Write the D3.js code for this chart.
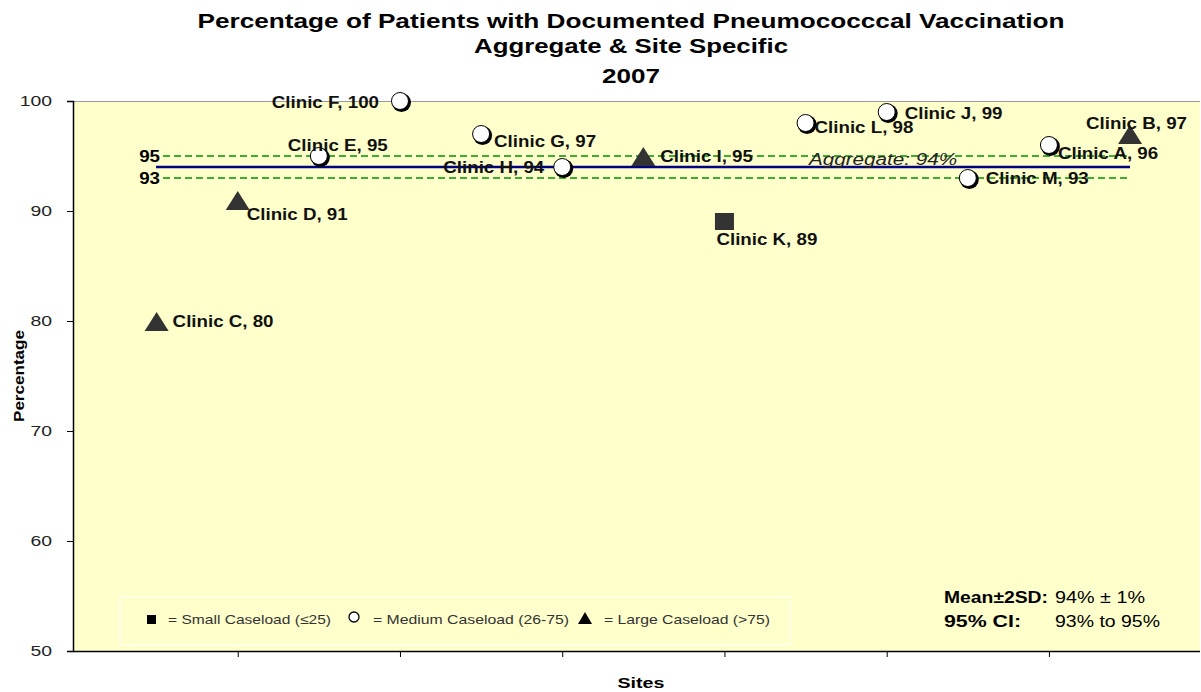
<!DOCTYPE html>
<html><head><meta charset="utf-8">
<script src="https://cdn.jsdelivr.net/npm/d3@7"></script>
<style>body{margin:0;background:#fff}svg{display:block;font-family:"Liberation Sans",Arial,sans-serif}</style>
</head><body>
<svg id="c" width="1201" height="692"></svg>
<script>
const clinics = ["Clinic C","Clinic D","Clinic E","Clinic F","Clinic G","Clinic H","Clinic I","Clinic K","Clinic L","Clinic J","Clinic M","Clinic A","Clinic B"];
const values  = [80,91,95,100,97,94,95,89,98,99,93,96,97];
const caseload = ["large","large","medium","medium","medium","medium","large","small","medium","medium","medium","medium","large"];
const yTicks = [50,60,70,80,90,100];
const xTicks = [2,4,6,8,10,12];
const aggregate = 94, ciLow = 93, ciHigh = 95, twoSD = 1;
const titleLines = ["Percentage of Patients with Documented Pneumococccal Vaccination","Aggregate & Site Specific","2007"];
const legendItems = [["small","= Small Caseload (\u226425)"],["medium","= Medium Caseload  (26-75)"],["large","= Large Caseload (>75)"]];

// label placement (style): [dx, dy, anchor]
const labelPlace = [[16,6,"start"],[9,20,"start"],[-31,-5,"start"],[-21,7,"end"],[13,13,"start"],[-18,6,"end"],
  [17,6,"start"],[-8,23,"start"],[9,10,"start"],[18,7,"start"],[18,6,"start"],[9,14,"start"],[-44,-5,"start"]];

const svg = d3.select("#c");
const L=73, R=1200, T=101, B=651;
const x = d3.scaleLinear().domain([0,13.85]).range([75.5,1199]);
const y = d3.scaleLinear().domain([50,100]).range([B,T]);

function stretch(sel,f){
  sel.each(function(){ const n=this.getComputedTextLength();
    d3.select(this).attr("textLength",n*f).attr("lengthAdjust","spacingAndGlyphs"); });
}

svg.append("rect").attr("x",L).attr("y",T).attr("width",R-L).attr("height",B-T).attr("fill","#ffffcc");
svg.append("line").attr("x1",L).attr("x2",R).attr("y1",T+0.5).attr("y2",T+0.5).attr("stroke","#999");

const titleBase=[28,53,83], titleLen=[867,314,58];
titleLines.forEach((t,i)=>{
  svg.append("text").attr("x",631).attr("y",titleBase[i]).attr("text-anchor","middle")
    .attr("font-size",19.5).attr("font-weight","bold").attr("fill","#000")
    .attr("textLength",titleLen[i]).attr("lengthAdjust","spacingAndGlyphs").text(t);
});

const ya = svg.append("g").attr("transform",`translate(${L},0)`)
  .call(d3.axisLeft(y).tickValues(yTicks).tickSize(6).tickPadding(15));
ya.select(".domain").attr("stroke","#000").attr("stroke-width",1.5);
ya.selectAll("text").attr("font-size",15.5).attr("fill","#222").attr("font-family","Liberation Sans, Arial");
stretch(ya.selectAll("text"),1.25);
const xa = svg.append("g").attr("transform",`translate(0,${B})`)
  .call(d3.axisBottom(x).tickValues(xTicks).tickSize(6).tickFormat(""));
xa.select(".domain").attr("d",`M${L},0.5H${R}`).attr("stroke","#000").attr("stroke-width",1.5);

svg.append("text").attr("transform","translate(24,376) rotate(-90)").attr("text-anchor","middle")
  .attr("font-size",15).attr("font-weight","bold").attr("textLength",92).attr("lengthAdjust","spacingAndGlyphs").text("Percentage");
svg.append("text").attr("x",641).attr("y",688).attr("text-anchor","middle")
  .attr("font-size",15).attr("font-weight","bold").attr("textLength",47).attr("lengthAdjust","spacingAndGlyphs").text("Sites");

// reference lines
const x1 = x(13);
[ciHigh,ciLow].forEach(v=>{
  svg.append("line").attr("x1",163).attr("x2",x1).attr("y1",y(v)).attr("y2",y(v))
    .attr("stroke","#009000").attr("stroke-width",1.4).attr("stroke-dasharray","7,4");
  svg.append("text").attr("x",160).attr("y",y(v)+6).attr("text-anchor","end").attr("class","w")
    .attr("font-size",16).attr("font-weight","bold").text(v);
});
svg.append("line").attr("x1",156).attr("x2",x1).attr("y1",y(aggregate)).attr("y2",y(aggregate))
  .attr("stroke","#000080").attr("stroke-width",2.5);
svg.append("text").attr("x",809).attr("y",y(aggregate)-2).attr("font-size",16).attr("font-style","italic")
  .attr("fill","#222").attr("textLength",148).attr("lengthAdjust","spacingAndGlyphs").text(`Aggregate: ${aggregate}%`);

function drawMarker(g,type,cx,cy){
  if(type==="small"){
    g.append("rect").attr("x",cx-9.5).attr("y",cy-9).attr("width",19).attr("height",17).attr("fill","#333");
  } else if(type==="medium"){
    g.append("circle").attr("cx",cx+1.5).attr("cy",cy+1.5).attr("r",9.5).attr("fill","#000");
    g.append("circle").attr("cx",cx).attr("cy",cy).attr("r",8.5).attr("fill","#fff").attr("stroke","#000").attr("stroke-width",1);
  } else {
    g.append("path").attr("d",`M${cx},${cy-9}L${cx+12},${cy+10}L${cx-12},${cy+10}Z`).attr("fill","#333");
  }
}
const pts = svg.append("g");
values.forEach((v,i)=> drawMarker(pts,caseload[i],x(i+1),y(v)));
values.forEach((v,i)=>{
  const p=labelPlace[i];
  pts.append("text").attr("x",x(i+1)+p[0]).attr("y",y(v)+p[1]).attr("text-anchor",p[2]).attr("class","w")
    .attr("font-size",16).attr("font-weight","bold").attr("fill","#111")
    .text(`${clinics[i]}, ${v}`);
});
stretch(svg.selectAll("text.w"),1.17);

// legend
const lg = svg.append("g");
lg.append("rect").attr("x",120).attr("y",597).attr("width",670).attr("height",48).attr("fill","none").attr("stroke","#fff").attr("stroke-width",1);
const lx=[151,354,585], tx=[168,373,604], tl=[163,196,166];
legendItems.forEach((d,i)=>{
  if(d[0]==="small") lg.append("rect").attr("x",lx[i]-4).attr("y",615).attr("width",9).attr("height",9).attr("fill","#000");
  else if(d[0]==="medium") lg.append("circle").attr("cx",lx[i]).attr("cy",617).attr("r",5).attr("fill","#fff").attr("stroke","#000").attr("stroke-width",1.3);
  else lg.append("path").attr("d",`M${lx[i]},${612}L${lx[i]+7},${624}L${lx[i]-7},${624}Z`).attr("fill","#000");
  lg.append("text").attr("x",tx[i]).attr("y",624).attr("font-size",13).attr("fill","#333")
    .attr("textLength",tl[i]).attr("lengthAdjust","spacingAndGlyphs").text(d[1]);
});

// stats
const st=[[944,603,104,true,"Mean\u00b12SD:"],[1055,603,90,false,`${aggregate}% \u00b1 ${twoSD}%`],
          [944,627,77,true,"95% CI:"],[1055,627,105,false,`${ciLow}% to ${ciHigh}%`]];
st.forEach(s=>{
  svg.append("text").attr("x",s[0]).attr("y",s[1]).attr("font-size",16).attr("font-weight",s[3]?"bold":"normal")
    .attr("textLength",s[2]).attr("lengthAdjust","spacingAndGlyphs").text(s[4]);
});
</script>
</body></html>
